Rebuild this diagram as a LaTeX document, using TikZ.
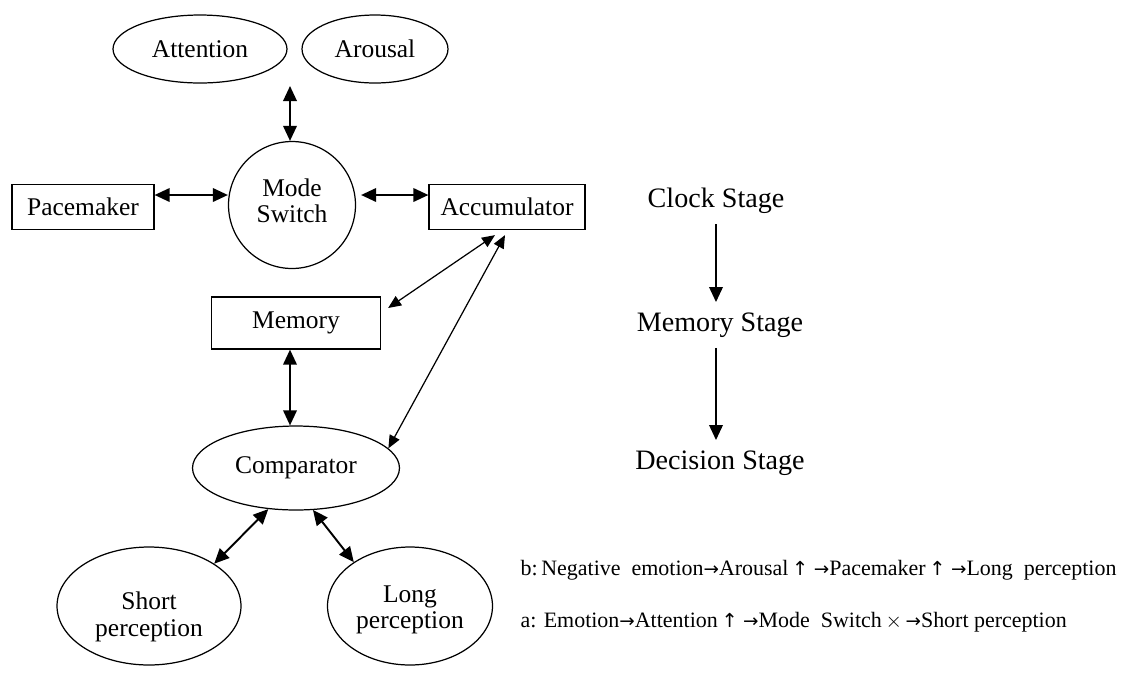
\documentclass[tikz,border=0pt]{standalone}
\usepackage{fontspec}
\setmainfont{Liberation Serif}
\newfontfamily\arrowfont{DejaVu Sans}
\newcommand{\ra}{{\arrowfont\fontsize{10.5}{12}\selectfont →}}
\newcommand{\ua}{{\arrowfont\fontsize{11}{12}\selectfont ↑}}
\usetikzlibrary{shapes.geometric,arrows.meta}
\begin{document}
\begin{tikzpicture}[
x=0.02cm,y=-0.02cm,
font=\fontsize{14.5}{15}\selectfont,
every node/.style={draw,line width=0.7pt,inner sep=0pt,align=center},
every label/.style={draw=none},
oval/.style={ellipse},
box/.style={rectangle},
stage/.style={draw=none,font=\fontsize{16}{18}\selectfont},
note/.style={draw=none,anchor=west,font=\fontsize{12.5}{14}\selectfont},
link/.style={line width=1.1pt,{Triangle[length=0.3cm,width=0.27cm]}-{Triangle[length=0.3cm,width=0.27cm]}},
thinlink/.style={line width=0.7pt,{Triangle[length=0.26cm,width=0.22cm]}-{Triangle[length=0.26cm,width=0.22cm]}},
down/.style={line width=1.1pt,-{Triangle[length=0.3cm,width=0.27cm]}}
]
\useasboundingbox (0,0) rectangle (1126,674);
\node[oval,minimum width=3.48cm,minimum height=1.36cm] (att) at (200,49) {Attention};
\node[oval,minimum width=2.92cm,minimum height=1.36cm] (aro) at (375,49) {Arousal};
\node[circle,minimum size=2.54cm,label={[yshift=0.08cm]center:Mode\\Switch}] (ms) at (292,205) {};
\node[box,minimum width=2.84cm,minimum height=0.9cm] (pace) at (83,207) {Pacemaker};
\node[box,minimum width=3.12cm,minimum height=0.9cm] (acc) at (507,207) {Accumulator};
\node[box,minimum width=3.38cm,minimum height=1.04cm] (mem) at (296,323) {Memory};
\node[oval,minimum width=4.14cm,minimum height=1.68cm] (comp) at (296,468) {Comparator};
\node[oval,minimum width=3.68cm,minimum height=2.36cm,label={[yshift=-0.22cm]center:Short\\perception}] (short) at (149,606) {};
\node[oval,minimum width=3.3cm,minimum height=2.36cm,label={[yshift=-0.08cm]center:Long\\perception}] (long) at (410,606) {};
\coordinate (gap) at (290,86);
\draw[link] (gap) -- (gap |- ms.north);
\draw[link] ([yshift=0.24cm]pace.east) -- ([yshift=0.24cm]pace.east -| ms.west);
\draw[link,shorten <=0.1cm] ([yshift=0.24cm]ms.east |- acc.west) -- ([yshift=0.24cm]acc.west);
\draw[thinlink] ([xshift=-0.24cm,yshift=-0.1cm]acc.south) -- ([xshift=0.14cm,yshift=0.3cm]mem.east);
\draw[thinlink] ([xshift=-0.04cm,yshift=-0.1cm]acc.south) -- (comp.12);
\draw[link] (mem.south -| gap) -- (comp.north -| gap);
\draw[link] (comp.236) -- (short.33);
\draw[link] (comp.292) -- (long.142);
\node[stage] (clock) at (716,201) {Clock Stage};
\node[stage] (mstage) at (720,325) {Memory Stage};
\node[stage] (dstage) at (720,463) {Decision Stage};
\draw[down,shorten <=0.2cm,shorten >=0.2cm] (clock.south) -- (clock.south |- mstage.north);
\draw[down,shorten <=0.2cm,shorten >=0.2cm] (clock.south |- mstage.south) -- (clock.south |- dstage.north);
\node[note] (nb) at (520,570) {b:\,Negative\ \ emotion\ra Arousal\,\ua\ \ra Pacemaker\,\ua\ \ra Long\ \ perception};
\node[note] (na) at (520,622) {a: Emotion\ra Attention\,\ua\ \ra Mode\ \ Switch\,$\times$\,\ra Short perception};
\end{tikzpicture}
\end{document}
